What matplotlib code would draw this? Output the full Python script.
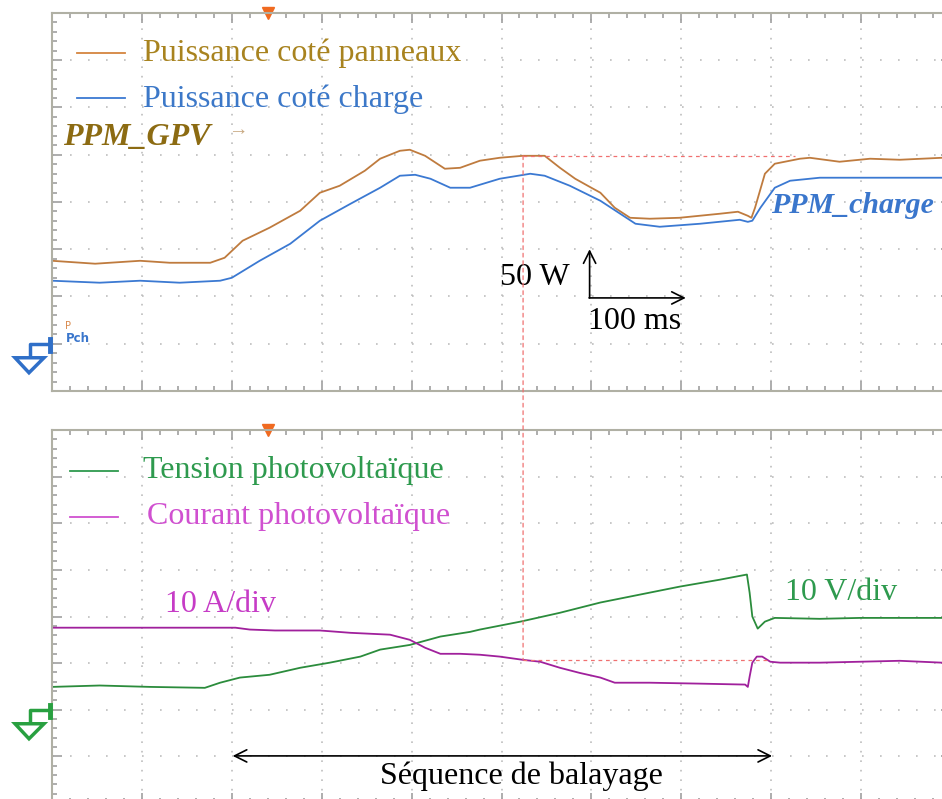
import numpy as np
import matplotlib.pyplot as plt
import matplotlib.transforms as mtransforms
from matplotlib.lines import Line2D
from matplotlib.patches import Polygon, ConnectionPatch
from matplotlib.ticker import MultipleLocator

plt.rcParams['font.family'] = ['Liberation Serif', 'DejaVu Serif']

# --- data (time in ms, 100 ms/div) ---
# panel power (W, 50 W/div)
t_pan = [0, 48, 98, 131, 176, 192, 212, 242, 276, 298, 320, 348, 365, 387, 398, 415, 437,
         454, 476, 498, 524, 548, 565, 582, 598, 610, 626, 643, 665, 698, 743, 763, 774,
         778, 782, 793, 804, 832, 843, 876, 910, 943, 990]
p_pan = [87.8, 84.7, 87.8, 85.7, 85.7, 91.0, 109.0, 122.8, 140.7, 159.8, 167.2, 183.1, 195.8,
         204.2, 205.3, 198.9, 185.2, 186.2, 193.7, 196.8, 198.9, 198.9, 186.2, 174.6, 166.1,
         159.8, 143.9, 133.3, 132.3, 133.3, 137.6, 139.7, 135.4, 133.3, 143.9, 179.9, 190.5,
         195.8, 196.8, 192.6, 195.8, 194.7, 196.8]

# load-side power (W)
t_ch = [0, 53, 98, 142, 187, 200, 231, 265, 298, 332, 365, 387, 404, 421, 443, 465, 498,
        532, 548, 576, 610, 632, 649, 676, 721, 765, 774, 779, 788, 804, 821, 854, 990]
p_ch = [66.7, 64.6, 66.7, 64.6, 66.7, 69.8, 87.8, 105.8, 130.2, 148.1, 165.1, 177.8, 178.8,
        174.6, 165.1, 165.1, 174.6, 179.9, 177.8, 167.2, 151.3, 137.6, 127.0, 123.8, 127.0,
        131.2, 129.0, 130.2, 143.9, 165.1, 172.5, 175.7, 175.7]

# PV voltage (V, 10 V/div)
t_v = [0, 53, 109, 170, 187, 209, 242, 276, 309, 343, 365, 398, 432, 465, 476, 521, 565,
       610, 654, 698, 743, 773, 776, 779, 785, 793, 804, 854, 899, 943, 990]
v_pv = [4.9, 5.2, 4.9, 4.7, 5.8, 6.9, 7.5, 9.0, 10.1, 11.4, 12.9, 13.9, 15.7, 16.7, 17.2,
        18.9, 20.8, 23.0, 24.7, 26.4, 27.9, 29.0, 25.1, 20.0, 17.4, 18.9, 19.7, 19.5, 19.7,
        19.7, 19.7]

# PV current (A, 10 A/div)
t_i = [0, 53, 109, 165, 204, 220, 248, 298, 332, 376, 398, 415, 432, 454, 476, 498, 524,
       543, 565, 587, 610, 626, 665, 721, 771, 774, 776, 779, 784, 790, 799, 810, 854, 899,
       943, 990]
i_pv = [17.6, 17.6, 17.6, 17.6, 17.6, 17.2, 17.0, 17.0, 16.5, 16.1, 15.0, 13.3, 12.0, 12.0,
        11.8, 11.4, 10.7, 10.3, 9.0, 7.9, 6.9, 5.8, 5.8, 5.6, 5.4, 4.9, 7.1, 10.1, 11.4, 11.4,
        10.3, 10.1, 10.1, 10.3, 10.5, 10.1]

# maximum power point found by the sweep
t_ppm, p_ppm, i_ppm = 524, 198.9, 10.7
t_sweep = (201, 801)
t_trig = 240

c_pan, c_ch = '#bf7b3e', '#3b79d2'
c_v, c_i = '#2b8c3c', '#a0209c'
frame = '#b0b0a4'
fs = 23

fig = plt.figure(figsize=(9.42, 7.99), dpi=100)
ax1 = fig.add_axes([52 / 942, 1 - 391 / 799, 899 / 942, 378 / 799])
ax2 = fig.add_axes([52 / 942, 1 - 803 / 799, 899 / 942, 373 / 799])


def scope_axes(ax, ylo, yhi, ydiv):
    ax.set_xlim(0, 1000)
    ax.set_ylim(ylo, yhi)
    ax.xaxis.set_major_locator(MultipleLocator(100))
    ax.xaxis.set_minor_locator(MultipleLocator(20))
    ax.yaxis.set_major_locator(MultipleLocator(ydiv))
    ax.yaxis.set_minor_locator(MultipleLocator(ydiv / 5))
    ax.tick_params(which='both', direction='in', top=True, right=True, bottom=True, left=True,
                   labelbottom=False, labelleft=False, color='#a0a0a0', width=1.2)
    ax.tick_params(which='major', length=7)
    ax.tick_params(which='minor', length=3.5)
    ax.xaxis.grid(True, which='major', color='#bdbdbd', lw=1.2, linestyle=(0, (1, 4.7)))
    ax.yaxis.grid(True, which='major', color='#bdbdbd', lw=1.2, linestyle=(0, (1, 9.8)))
    for s in ax.spines.values():
        s.set_color(frame)
        s.set_linewidth(1.5)
    # trigger marker
    bt = mtransforms.blended_transform_factory(ax.transData, ax.transAxes)
    ax.plot([t_trig], [1.0], marker='v', ms=9, color='#f06a20', transform=bt, clip_on=False)


def ground(ax, y0, color):
    base = mtransforms.blended_transform_factory(ax.transAxes, ax.transData)
    tr = mtransforms.Affine2D() + mtransforms.ScaledTranslation(0, y0, base)
    fig.add_artist(Line2D([-2, -22, -22], [0, 0, -12], color=color, lw=2.5, transform=tr))
    fig.add_artist(Line2D([-2, -2], [5, -7], color=color, lw=3.5, transform=tr))
    fig.add_artist(Polygon([[-37, -14], [-8, -14], [-23, -29]], closed=True, fill=False,
                           edgecolor=color, lw=2.5, transform=tr))


scope_axes(ax1, -50, 350, 50)
scope_axes(ax2, -20, 60, 10)

# --- top panel: powers ---
ax1.plot(t_pan, p_pan, color=c_pan, lw=1.3)
ax1.plot(t_ch, p_ch, color=c_ch, lw=1.3)
ax1.plot([t_ppm, 826], [p_ppm, p_ppm], color='#f07070', lw=0.9, linestyle=(0, (3, 3)))

ax1.plot([28, 81], [308, 308], color='#d4853f', lw=1.3)
ax1.text(101, 307, 'Puissance coté panneaux', color='#a8831f', fontsize=fs, va='center')
ax1.plot([28, 81], [260, 260], color=c_ch, lw=1.3)
ax1.text(101, 259, 'Puissance coté charge', color='#3c78c8', fontsize=fs, va='center')
ax1.text(12, 218, 'PPM_GPV', color='#8c6b12', fontsize=fs, fontweight='bold',
         fontstyle='italic', va='center')
ax1.text(196, 226, '→', color='#c8a880', fontsize=14, va='center')
ax1.text(800, 146, 'PPM_charge', color='#3a76cc', fontsize=21.5, fontweight='bold',
         fontstyle='italic', va='center')

# scale bar
ax1.annotate('', xy=(598, 100), xytext=(598, 48.5),
             arrowprops=dict(arrowstyle='->', lw=1.2, color='black', mutation_scale=22,
                             shrinkA=0, shrinkB=0))
ax1.annotate('', xy=(705, 48.5), xytext=(597.4, 48.5),
             arrowprops=dict(arrowstyle='->', lw=1.2, color='black', mutation_scale=22,
                             shrinkA=0, shrinkB=0))
ax1.text(576, 70, '50 W', fontsize=fs, ha='right', va='center')
ax1.text(596, 24, '100 ms', fontsize=fs, ha='left', va='center')

ax1.text(15, 19, 'P', color='#d8884a', fontsize=7, fontfamily='DejaVu Sans', va='center')
ax1.text(15, 6, 'Pch', color='#3a76cc', fontsize=8.5, fontfamily='DejaVu Sans',
         fontweight='bold', va='center')
ground(ax1, 0, '#2f6fc8')

# --- bottom panel: PV voltage and current ---
ax2.plot(t_v, v_pv, color=c_v, lw=1.3)
ax2.plot(t_i, i_pv, color=c_i, lw=1.3)
ax2.plot([t_ppm, 796], [i_ppm, i_ppm], color='#f07070', lw=0.9, linestyle=(0, (3, 3)))

ax2.plot([20, 73], [51.2, 51.2], color='#2e9a4e', lw=1.3)
ax2.text(101, 51.3, 'Tension photovoltaïque', color='#2e9a4e', fontsize=fs, va='center')
ax2.plot([20, 73], [41.4, 41.4], color='#d050d0', lw=1.3)
ax2.text(106, 41.4, 'Courant photovoltaïque', color='#d050d0', fontsize=fs, va='center')
ax2.text(126, 22.5, '10 A/div', color='#c63cc6', fontsize=fs, va='center')
ax2.text(815, 25.1, '10 V/div', color='#2e9a4e', fontsize=fs, va='center')

ax2.annotate('', xy=(t_sweep[1], -9.9), xytext=(t_sweep[0], -9.9),
             arrowprops=dict(arrowstyle='<->', lw=1.2, color='black', mutation_scale=22,
                             shrinkA=0, shrinkB=0))
ax2.text(522, -14.2, 'Séquence de balayage', fontsize=fs, ha='center', va='center')
ground(ax2, 0, '#28a040')

# vertical dashed line linking the max power point to the current trace
con = ConnectionPatch(xyA=(t_ppm, p_ppm), coordsA='data', axesA=ax1,
                      xyB=(t_ppm, i_ppm), coordsB='data', axesB=ax2,
                      color='#f07070', lw=0.9, linestyle=(0, (3, 3)))
fig.add_artist(con)

fig.savefig('out.png', dpi=100)
